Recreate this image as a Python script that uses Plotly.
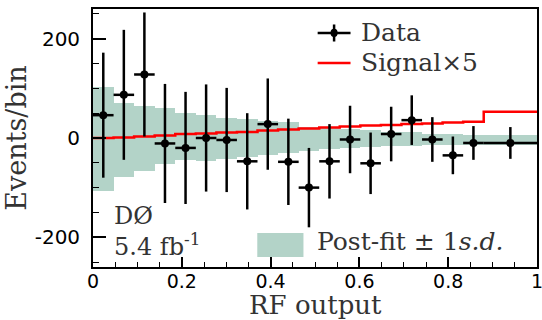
import numpy as np
import plotly.graph_objects as go

# ---- data ----
bin_edges = [0.0, 0.0463, 0.0926, 0.1389, 0.1853, 0.2316, 0.2779, 0.3242, 0.3705, 0.4168,
             0.4632, 0.5095, 0.5558, 0.6021, 0.6484, 0.6947, 0.7411, 0.7874, 0.8337, 0.88, 1.0]
data_y = [46, 87, 128, -11, -20, 0, -4, -47, 28, -48, -100, -47, -3, -51, 8, 36, -3, -35, -10, -10]
data_err = [126, 131, 125, 120, 113, 108, 105, 97, 92, 87, 80, 75, 68, 62, 55, 50, 45, 38, 34, 32]
signal_x5 = [0, 1, 3, 5, 8, 9, 11, 12, 15, 17, 19, 21, 23, 25, 26, 28, 29, 31, 33, 53]
band_hi = [102, 71, 64, 60, 50, 46, 40, 38, 34, 33, 23, 21, 19, 17, 13, 13, 9, 9, 7, 7]
band_lo = [-107, -78, -66, -52, -45, -46, -43, -38, -34, -31, -26, -22, -21, -18, -17, -17, -15, -15, -14, -14]
x_tickvals = [0, 0.2, 0.4, 0.6, 0.8, 1]
x_ticktext = ["0", "0.2", "0.4", "0.6", "0.8", "1"]
y_tickvals = [-200, 0, 200]
y_ticktext = ["-200", "0", "200"]

edges = np.array(bin_edges)
centers = (edges[:-1] + edges[1:]) / 2
widths = edges[1:] - edges[:-1]
lo = np.array(band_lo)
hi = np.array(band_hi)

BAND = "#b3d3c8"
SERIF = "DejaVu Serif"
TXT = "#333333"

fig = go.Figure()
fig.add_trace(go.Bar(x=centers, y=hi - lo, base=lo, width=widths,
                     marker=dict(color=BAND, line=dict(width=0)), showlegend=False,
                     hoverinfo="skip"))
fig.add_trace(go.Scatter(x=list(edges), y=signal_x5 + [signal_x5[-1]], mode="lines",
                         line=dict(color="#ff0000", width=2.5, shape="hv"), showlegend=False))
fig.add_trace(go.Scatter(x=centers, y=data_y, mode="markers",
                         marker=dict(color="black", size=8),
                         error_y=dict(type="data", array=data_err, color="black", thickness=2.5, width=0),
                         error_x=dict(type="data", array=widths / 2, color="black", thickness=2.5, width=0),
                         showlegend=False))

# legend (drawn manually)
shapes = [
    dict(type="line", xref="paper", yref="paper", x0=0.506, x1=0.580, y0=0.907, y1=0.907,
         line=dict(color="black", width=2.5)),
    dict(type="line", xref="paper", yref="paper", x0=0.543, x1=0.543, y0=0.874, y1=0.940,
         line=dict(color="black", width=2.5)),
    dict(type="circle", xref="paper", yref="paper", x0=0.535, x1=0.551, y0=0.891, y1=0.923,
         fillcolor="black", line=dict(color="black", width=0)),
    dict(type="line", xref="paper", yref="paper", x0=0.506, x1=0.580, y0=0.791, y1=0.791,
         line=dict(color="#ff0000", width=2.5)),
    dict(type="rect", xref="paper", yref="paper", x0=0.370, x1=0.474, y0=0.039, y1=0.132,
         fillcolor=BAND, line=dict(width=0)),
]
annotations = [
    dict(text="Data", x=0.600, y=0.907, xref="paper", yref="paper", xanchor="left", yanchor="middle",
         showarrow=False, font=dict(family=SERIF, size=25, color=TXT)),
    dict(text="Signal×5", x=0.600, y=0.791, xref="paper", yref="paper", xanchor="left", yanchor="middle",
         showarrow=False, font=dict(family=SERIF, size=25, color=TXT)),
    dict(text="Post-fit ± 1<i>s.d.</i>", x=0.500, y=0.097, xref="paper", yref="paper", xanchor="left",
         yanchor="middle", showarrow=False, font=dict(family=SERIF, size=25, color=TXT)),
    dict(text="DØ", x=0.043, y=0.198, xref="paper", yref="paper", xanchor="left", yanchor="middle",
         showarrow=False, font=dict(family=SERIF, size=24, color=TXT)),
    dict(text="5.4 fb<sup>-1</sup>", x=0.043, y=0.085, xref="paper", yref="paper", xanchor="left",
         yanchor="middle", showarrow=False, font=dict(family=SERIF, size=24, color=TXT)),
    # x-axis title
    dict(text="RF output", x=0.5, y=0, xref="paper", yref="paper", xanchor="center", yanchor="top",
         yshift=-21, showarrow=False, font=dict(family=SERIF, size=26, color=TXT)),
]

fig.update_layout(
    width=542, height=320,
    margin=dict(l=93, r=5, t=9, b=53, autoexpand=False),
    paper_bgcolor="white", plot_bgcolor="white",
    barmode="overlay", bargap=0,
    shapes=shapes, annotations=annotations,
    showlegend=False,
)
fig.update_xaxes(range=[0, 1], tickmode="array", tickvals=x_tickvals, ticktext=x_ticktext,
                 automargin=False, ticklabeloverflow="allow", ticklabelstandoff=-4,
                 ticks="inside", ticklen=10, tickwidth=1.5, tickcolor="black",
                 minor=dict(dtick=0.05, ticks="inside", ticklen=5, tickwidth=1.2, tickcolor="black"),
                 showline=True, linecolor="black", linewidth=1.8, mirror=True, showgrid=False,
                 zeroline=False, tickfont=dict(family="DejaVu Sans", size=19, color="black"))
fig.update_yaxes(range=[-260, 260], tickmode="array", tickvals=y_tickvals, ticktext=y_ticktext,
                 automargin=False,
                 ticks="inside", ticklen=13, tickwidth=1.5, tickcolor="black",
                 minor=dict(dtick=50, tick0=0, ticks="inside", ticklen=6, tickwidth=1.2, tickcolor="black"),
                 showline=True, linecolor="black", linewidth=1.8, mirror=True, showgrid=False,
                 zeroline=False, tickfont=dict(family="DejaVu Sans", size=20, color="black"),
                 ticklabelstandoff=7,
                 title=dict(text="Events/bin", font=dict(family=SERIF, size=27, color=TXT), standoff=0))

fig.write_html("out.html")
